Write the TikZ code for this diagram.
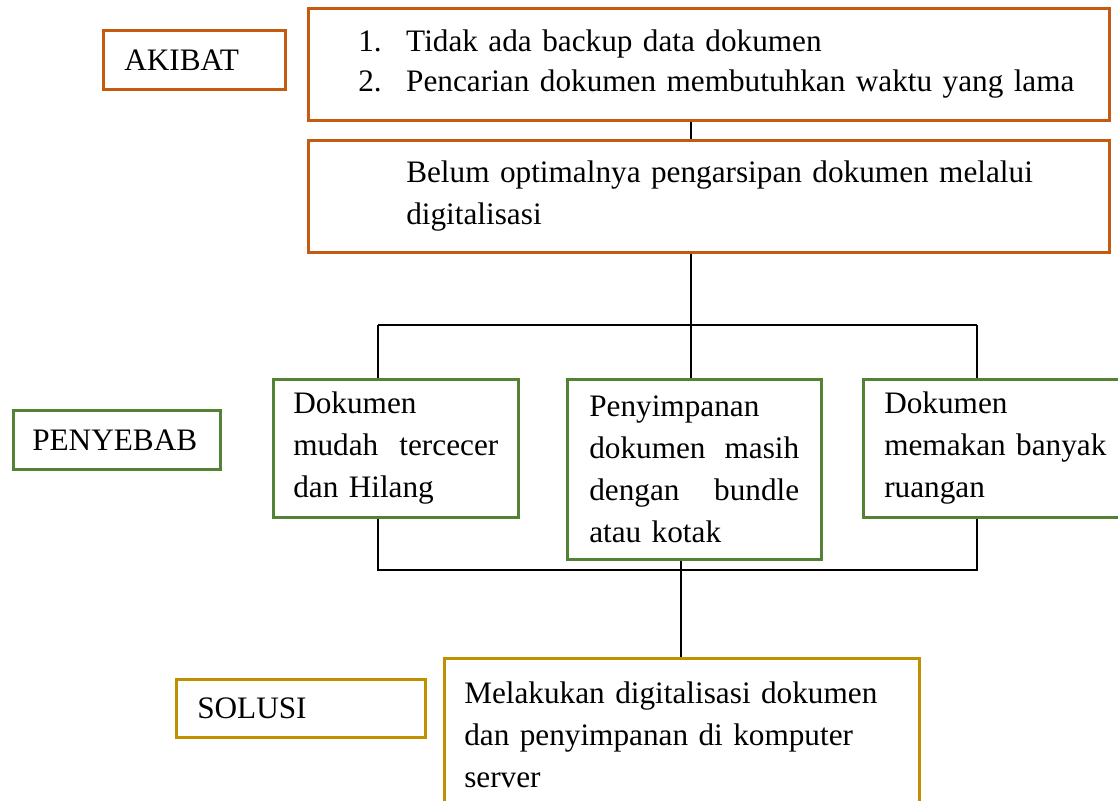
\documentclass[tikz,border=0pt]{standalone}
\usepackage{fontspec}
\setmainfont{Liberation Serif}
\definecolor{akibatc}{RGB}{197,90,17}
\definecolor{sebabc}{RGB}{84,130,53}
\definecolor{solusic}{RGB}{191,144,0}

\begin{document}
\begin{tikzpicture}[x=0.4pt, y=-0.4pt,
  box/.style={draw, line width=1pt, anchor=north west, align=left,
              inner ysep=0pt, font=\fontsize{12.5}{16.8}\selectfont},
  akibatbox/.style={box, draw=akibatc},
  sebabbox/.style={box, draw=sebabc},
  solusibox/.style={box, draw=solusic},
  link/.style={draw=black, line width=0.5pt}]
\useasboundingbox (0,0) rectangle (1118,800);
% akibat
\node[akibatbox, minimum width=72.8pt, minimum height=23.6pt,
  text width=56pt, inner xsep=8.4pt] (akibat) at (102,29) {AKIBAT};
\node[akibatbox, minimum width=320.4pt, minimum height=44.8pt,
  text width=280.4pt, inner xsep=20pt, font=\fontsize{12.5}{16}\selectfont]
  (dampak) at (307,7)
  {\makebox[19.2pt][l]{1.}Tidak ada backup data dokumen\\
   \mbox{\makebox[19.2pt][l]{2.}Pencarian dokumen membutuhkan waktu yang lama}};
\node[akibatbox, minimum width=320.4pt, minimum height=44.8pt,
  text width=242pt, inner xsep=39.2pt] (masalah) at (307,139)
  {\mbox{Belum optimalnya pengarsipan dokumen melalui}\\ digitalisasi};
% penyebab
\node[sebabbox, minimum width=82.8pt, minimum height=23.6pt,
  text width=67.6pt, inner xsep=7.6pt] (penyebab) at (12,409) {PENYEBAB};
\node[sebabbox, minimum width=98pt, minimum height=55.2pt,
  text width=82pt, inner xsep=8pt] (sebab1) at (272,378)
  {Dokumen\\ mudah\hfill tercecer\\ dan Hilang};
\node[sebabbox, minimum width=101.6pt, minimum height=72pt,
  text width=84pt, inner xsep=8.8pt] (sebab2) at (566,378)
  {Penyimpanan\\ dokumen\hfill masih\\ dengan\hfill bundle\\ atau kotak};
\node[sebabbox, minimum width=105.2pt, minimum height=55.2pt,
  text width=88.4pt, inner xsep=8.4pt] (sebab3) at (862,378)
  {Dokumen\\ \mbox{memakan banyak}\\ ruangan};
% solusi
\node[solusibox, minimum width=99.6pt, minimum height=23.2pt,
  text width=82.8pt, inner xsep=8.4pt] (solusi) at (175,678) {SOLUSI};
\node[solusibox, minimum width=190pt, minimum height=61.2pt,
  text width=174pt, inner xsep=8pt] (tindakan) at (443,657)
  {Melakukan digitalisasi dokumen\\ dan penyimpanan di komputer\\ server};

\coordinate (atas) at (691,325);
\coordinate (kiriA) at (378,325);
\coordinate (kananA) at (977,325);
\coordinate (bawah) at (681,570);
\coordinate (kiriB) at (378,570);
\coordinate (kananB) at (977,570);

\draw[link] (dampak.south -| atas) -- (masalah.north -| atas);
\draw[link] (masalah.south -| atas) -- (atas);
\draw[link] (kiriA) -- (kananA);
\draw[link] (kiriA) -- (sebab1.north -| kiriA);
\draw[link] (atas) -- (sebab2.north -| atas);
\draw[link] (kananA) -- (sebab3.north -| kananA);
\draw[link] (sebab1.south -| kiriB) -- (kiriB) -- (kananB)
  -- (sebab3.south -| kananB);
\draw[link] (sebab2.south -| bawah) -- (tindakan.north -| bawah);
\end{tikzpicture}
\end{document}
